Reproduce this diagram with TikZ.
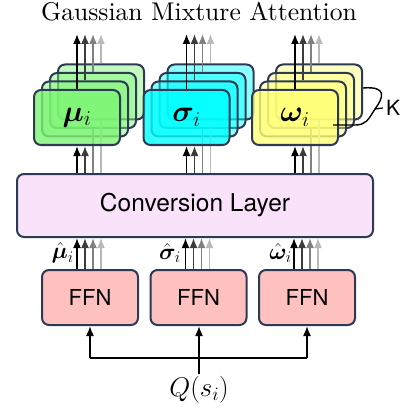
\RequirePackage{fix-cm}
\documentclass[tikz,border=0pt]{standalone}
\usepackage{amsmath}
\usepackage{bm}
\usepackage{fontspec}
\setsansfont{TeX Gyre Heros}
\newfontfamily\titlefont{lmroman10-regular.otf}
\usetikzlibrary{arrows.meta,calc}
\definecolor{bordercol}{RGB}{44,58,86}
\definecolor{gfill}{RGB}{125,245,115}
\definecolor{cfill}{RGB}{0,255,255}
\definecolor{yfill}{RGB}{255,255,120}
\definecolor{convfill}{RGB}{250,226,250}
\definecolor{ffnfill}{RGB}{255,192,192}
\definecolor{ak0}{RGB}{0,0,0}
\definecolor{ak1}{RGB}{60,60,60}
\definecolor{ak2}{RGB}{128,128,128}
\definecolor{ak3}{RGB}{185,185,185}
\begin{document}
\begin{tikzpicture}[x=1pt,y=-1pt,
  box/.style={draw=bordercol,line width=2pt,rounded corners=7pt,minimum width=86pt,minimum height=55pt,inner sep=0pt},
  backbox/.style={box,fill opacity=0.45},
  frontbox/.style={box,fill opacity=0.8,text opacity=1},
  ffnbox/.style={box,fill=ffnfill,minimum width=96pt,minimum height=55pt,font=\sffamily\fontsize{22}{26}\selectfont},
  convbox/.style={box,fill=convfill,minimum width=356pt,minimum height=63pt,font=\sffamily\fontsize{24.5}{28}\selectfont},
  arr/.style={line width=1.6pt,-{Latex[length=10pt,width=8pt]}},
  ln/.style={line width=1.6pt},
  mathlab/.style={font=\fontsize{30}{34}\selectfont},
  hatlab/.style={inner sep=0pt,anchor=east,font=\fontsize{23}{26}\selectfont},
]
\useasboundingbox (0,0) rectangle (406,414);
\node[font=\titlefont\fontsize{25.6}{30}\selectfont,inner sep=0pt] (title) at (199,12) {Gaussian Mixture Attention};

\node[convbox] (conv) at (195,205.5) {Conversion Layer};
\node[ffnbox] (ffn1) at (90,297.5) {FFN};
\node[ffnbox] (ffn2) at (198.5,297.5) {FFN};
\node[ffnbox] (ffn3) at (307,297.5) {FFN};

\foreach \cx/\col/\nm/\lab in {77/gfill/g/{$\bm{\mu}_i$},186.5/cfill/c/{$\bm{\sigma}_i$},295/yfill/y/{$\bm{\omega}_i$}}{
  \foreach \k in {3,2,1}{
    \node[backbox,fill=\col] (\nm\k) at ({\cx+8*\k},{117.5-8.5*\k}) {};
  }
  \draw[ln,ak3] (\nm3.south |- conv.north) -- (\nm3.south);
  \draw[ln,ak2] (\nm2.south |- conv.north) -- (\nm2.south);
  \node[frontbox,fill=\col,mathlab] (\nm0) at (\cx,117.5) {\lab};
}

\coordinate (toprow) at (0,34);
\foreach \nm in {g,c,y}{
  \foreach \k in {0,1,2,3}{
    \draw[arr,ak\k] (\nm\k.north) -- (\nm\k.north |- toprow);
  }
  \draw[arr,ak0] (\nm0.south |- conv.north) -- (\nm0.south);
  \draw[arr,ak1] (\nm1.south |- conv.north) -- (\nm1.south |- \nm0.south);
}

\foreach \f in {1,2,3}{
  \foreach \k in {3,2,1,0}{
    \path (ffn\f.north) ++({-13+8*\k},0) coordinate (s\f\k);
    \draw[arr,ak\k] (s\f\k) -- (s\f\k |- conv.south);
  }
}
\node[hatlab] (hmu) at (74,253) {$\hat{\bm{\mu}}_i$};
\node[hatlab] (hsig) at (181,253) {$\hat{\bm{\sigma}}_i$};
\node[hatlab] (hom) at (292,253) {$\hat{\bm{\omega}}_i$};

% brace K
\coordinate (bra) at (363,88);
\coordinate (brc) at (375,109);
\coordinate (brb) at (333,125);
\draw[line width=1.4pt] (bra) .. controls (387,86) and (384,97) .. (brc)
   .. controls (368,120) and (366,125) .. (355,125) -- (brb);
\draw[line width=1.2pt] (brc) -- ++(8,-1) coordinate (brd);
\node[inner sep=0pt,anchor=west,font=\sffamily\fontsize{21}{24}\selectfont] (K) at ($(brd)+(3,0)$) {K};

% input
\node[font=\fontsize{27}{30}\selectfont,inner sep=2pt] (q) at (199,390) {$Q(s_i)$};
\coordinate (hy) at (0,358);
\draw[ln] (q.north) -- (q.north |- hy);
\draw[arr] (q.north |- hy) -- (q.north |- ffn2.south);
\draw[ln] (ffn1.south |- hy) -- (ffn3.south |- hy);
\draw[arr] (ffn1.south |- hy) -- (ffn1.south);
\draw[arr] (ffn3.south |- hy) -- (ffn3.south);
\end{tikzpicture}
\end{document}
